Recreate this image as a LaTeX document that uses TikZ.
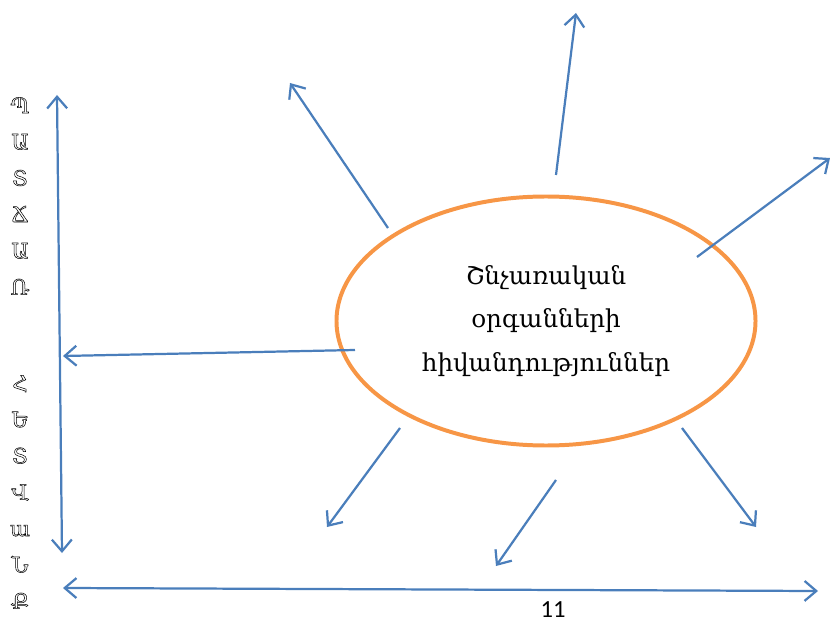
\documentclass[tikz,border=0pt]{standalone}
\usepackage{fontspec}
\setmainfont{DejaVu Serif}
\newfontfamily\pagefont{Carlito}
\usetikzlibrary{arrows.meta,shapes.geometric}
\definecolor{linkblue}{RGB}{74,126,187}
\definecolor{rimorange}{RGB}{247,150,70}
\newcommand\hollowtext[1]{\special{pdf:literal direct q 1 Tr 0.45 w}#1\special{pdf:literal direct Q}}
\tikzset{
  link/.style={draw=linkblue, line width=1.9pt, -{Straight Barb[length=10pt, width=17pt]}},
  twoway/.style={draw=linkblue, line width=1.9pt, {Straight Barb[length=10pt, width=17pt]}-{Straight Barb[length=10pt, width=17pt]}},
  letters/.style={align=center, inner sep=0pt, font=\fontsize{18}{31}\selectfont}
}

\begin{document}
\begin{tikzpicture}[x=0.03cm, y=-0.03cm]
\useasboundingbox (0,0) rectangle (830,622);

\node[ellipse, draw=rimorange, line width=3.4pt, minimum width=12.57cm, minimum height=7.47cm,
      inner sep=0pt, align=center, font=\fontsize{21}{37}\selectfont] (illness) at (546,321)
      {Շնչառական\\օրգանների\\հիվանդություններ};

\coordinate (nwFrom) at (388,228);  \coordinate (nwTo) at (290,83);
\coordinate (nFrom) at (556,175);   \coordinate (nTo) at (576,13);
\coordinate (neFrom) at (697,257);  \coordinate (neTo) at (830,158);
\coordinate (wFrom) at (355,350);   \coordinate (wTo) at (63,356);
\coordinate (swFrom) at (400,428);  \coordinate (swTo) at (327,527);
\coordinate (sFrom) at (556,480);   \coordinate (sTo) at (496,566);
\coordinate (seFrom) at (682,428);  \coordinate (seTo) at (756,527);

\draw[link] (nwFrom) -- (nwTo);
\draw[link] (nFrom) -- (nTo);
\draw[link] (neFrom) -- (neTo);
\draw[link] (wFrom) -- (wTo);
\draw[link] (swFrom) -- (swTo);
\draw[link] (sFrom) -- (sTo);
\draw[link] (seFrom) -- (seTo);

\coordinate (axisTop) at (57,95);
\coordinate (axisBottom) at (62,553);
\coordinate (baseLeft) at (63,588);
\coordinate (baseRight) at (818,591);

\draw[twoway] (axisBottom) -- (axisTop);
\draw[twoway] (baseLeft) -- (baseRight);

\node[letters] (cause) at (20,196) {\hollowtext{Պ\\Ա\\Տ\\Ճ\\Ա\\Ռ}};
\node[letters] (effect) at (20,492) {\hollowtext{Հ\\Ե\\Տ\\Վ\\ա\\Ն\\Ք}};

\node[anchor=base, inner sep=0pt, font=\pagefont\fontsize{21}{21}\selectfont] (pageno) at (553,617) {11};

\end{tikzpicture}
\end{document}
